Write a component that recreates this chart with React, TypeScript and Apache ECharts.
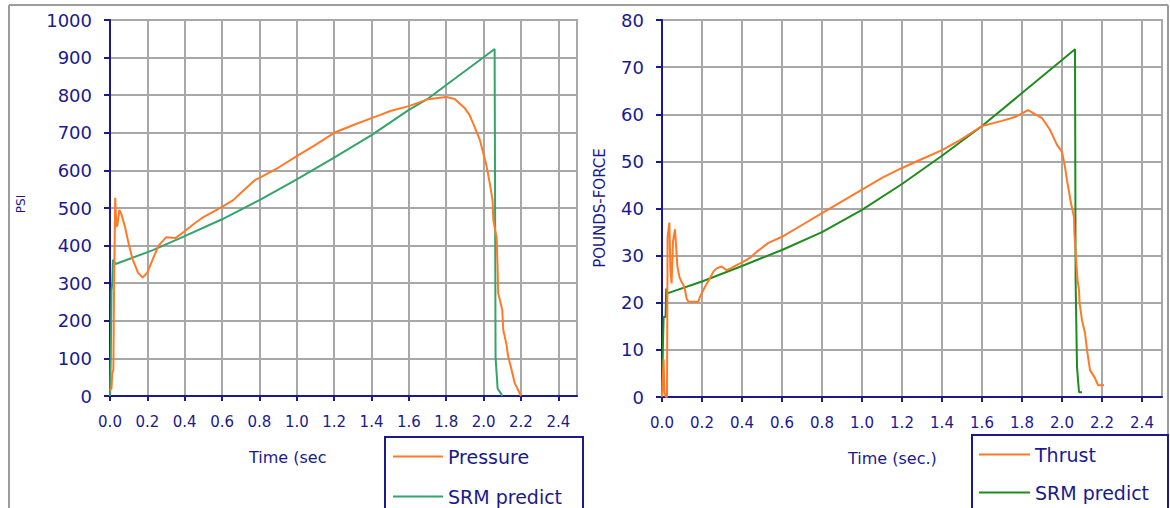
import React, { useEffect, useRef } from 'react';
import * as echarts from 'echarts';

// ---------- data ----------
const xTickValues = [0, 0.2, 0.4, 0.6, 0.8, 1.0, 1.2, 1.4, 1.6, 1.8, 2.0, 2.2, 2.4];

// Left chart: chamber pressure (PSI)
const pressureTime = [0, 0.008, 0.012, 0.018, 0.022, 0.028, 0.034, 0.04, 0.05, 0.06, 0.08, 0.10, 0.12, 0.15, 0.175, 0.20, 0.23, 0.26, 0.30, 0.35, 0.40, 0.45, 0.50, 0.60, 0.66, 0.70, 0.775, 0.80, 0.90, 1.00, 1.10, 1.20, 1.30, 1.40, 1.444, 1.50, 1.60, 1.70, 1.80, 1.845, 1.90, 1.925, 1.95, 1.98, 2.015, 2.035, 2.048, 2.052, 2.07, 2.072, 2.075, 2.078, 2.10, 2.105, 2.123, 2.13, 2.15, 2.166, 2.193, 2.20];
const pressureValue = [15, 20, 60, 70, 300, 527, 450, 455, 495, 485, 450, 405, 365, 328, 315, 328, 365, 400, 422, 420, 438, 458, 476, 503, 521, 540, 574, 580, 607, 638, 668, 700, 720, 739, 747, 758, 771, 789, 795, 790, 765, 747, 718, 681, 614, 560, 521, 468, 420, 388, 343, 274, 229, 176, 136, 109, 69, 35, 8, 0];

const srmLeftTime = [0, 0.004, 0.008, 0.012, 0.016, 0.03, 0.23, 0.40, 0.60, 0.80, 1.00, 1.20, 1.40, 1.60, 1.70, 1.80, 2.00, 2.059, 2.064, 2.075, 2.095, 2.10];
const srmLeftValue = [0, 95, 280, 300, 362, 351, 388, 425, 470, 521, 576, 634, 694, 761, 790, 827, 901, 923, 104, 20, 5, 0];

// Right chart: thrust (pounds-force)
const thrustTime = [0, 0.008, 0.012, 0.02, 0.025, 0.028, 0.037, 0.042, 0.048, 0.055, 0.065, 0.077, 0.087, 0.098, 0.107, 0.115, 0.123, 0.132, 0.182, 0.19, 0.215, 0.237, 0.257, 0.273, 0.298, 0.323, 0.348, 0.373, 0.398, 0.423, 0.448, 0.473, 0.507, 0.532, 0.60, 0.70, 0.80, 0.90, 1.00, 1.10, 1.20, 1.30, 1.40, 1.49, 1.60, 1.70, 1.765, 1.83, 1.90, 1.94, 1.975, 2.00, 2.015, 2.025, 2.045, 2.06, 2.062, 2.075, 2.078, 2.085, 2.088, 2.10, 2.115, 2.125, 2.14, 2.165, 2.18, 2.21];
const thrustValue = [0, 8, 1, 0, 0, 34, 37, 27, 24.1, 33, 35.6, 27.7, 25.5, 24.4, 23.8, 22.7, 20.9, 20.2, 20.2, 21.3, 23.4, 25.0, 26.6, 27.3, 27.7, 26.9, 27.4, 28.0, 28.5, 29.1, 29.8, 30.8, 31.9, 32.7, 34.0, 36.5, 39.0, 41.5, 44.0, 46.5, 48.6, 50.5, 52.4, 54.5, 57.5, 58.6, 59.4, 60.9, 59.2, 56.7, 53.5, 52.0, 48.8, 46.0, 41.1, 38.2, 34.8, 26.3, 24.8, 22.7, 19.9, 16.3, 13.6, 10.0, 5.7, 4.0, 2.5, 2.5];

const srmRightTime = [0, 0.002, 0.008, 0.018, 0.021, 0.026, 0.20, 0.40, 0.60, 0.80, 1.00, 1.20, 1.40, 1.60, 1.80, 2.00, 2.065, 2.068, 2.075, 2.085, 2.10];
const srmRightValue = [0, 5.7, 17, 17, 23, 22, 24.5, 27.8, 31.2, 35, 39.7, 45.2, 51.2, 57.5, 64.5, 71.5, 73.8, 24.8, 6.4, 1, 1];

// ---------- styles ----------
const NAVY = '#1a1a8e';
const GRID = '#a8a8a8';
const FRAME = '#9c9c9c';
const ORANGE = '#ff7a28';
const LGREEN = '#35a46a';
const RGREEN = '#1f8c1f';
const FONT = 'DejaVu Sans';

const zip = (t: number[], v: number[]) => t.map((x, i) => [x, v[i]]);

const makeX = (gridIndex: number) => ({
  type: 'value',
  gridIndex,
  min: 0,
  max: 2.5,
  interval: 0.2,
  axisLine: { show: true, onZero: false, lineStyle: { color: NAVY, width: 2 } },
  axisTick: { show: true, length: 5, lineStyle: { color: NAVY, width: 2 }, customValues: xTickValues },
  axisLabel: {
    color: NAVY,
    fontFamily: FONT,
    fontSize: 15,
    margin: 18,
    customValues: xTickValues,
    formatter: (v: number) => v.toFixed(1),
  },
  splitLine: { show: true, lineStyle: { color: GRID, width: 2 } },
});

const makeY = (gridIndex: number, max: number, interval: number) => ({
  type: 'value',
  gridIndex,
  min: 0,
  max,
  interval,
  axisLine: { show: true, onZero: false, lineStyle: { color: NAVY, width: 2 } },
  axisTick: { show: true, length: 6, lineStyle: { color: NAVY, width: 2 } },
  axisLabel: { color: NAVY, fontFamily: FONT, fontSize: 18, margin: 18, formatter: (v: number) => String(v) },
  splitLine: { show: true, lineStyle: { color: GRID, width: 2 } },
});

const lineSeries = (name: string, idx: number, data: number[][], color: string, z: number) => ({
  type: 'line',
  name,
  xAxisIndex: idx,
  yAxisIndex: idx,
  data,
  symbol: 'none',
  showSymbol: false,
  z,
  lineStyle: { color, width: 2 },
  itemStyle: { color },
});

const legendCommon = {
  orient: 'vertical',
  icon: 'rect',
  itemHeight: 2,
  selectedMode: false,
  borderWidth: 0,
  itemStyle: { borderWidth: 0 },
  textStyle: { color: NAVY, fontSize: 19, fontFamily: FONT },
};

const option = {
  animation: false,
  backgroundColor: '#ffffff',
  grid: [
    { left: 110, top: 20, width: 467, height: 376, show: true, borderColor: GRID, borderWidth: 2, backgroundColor: 'transparent' },
    { left: 662, top: 20, width: 500, height: 377, show: true, borderColor: GRID, borderWidth: 2, backgroundColor: 'transparent' },
  ],
  xAxis: [makeX(0), makeX(1)],
  yAxis: [makeY(0, 1000, 100), makeY(1, 80, 10)],
  legend: [
    {
      ...legendCommon,
      data: ['Pressure', 'SRM predict'],
      left: 385,
      top: 437,
      itemWidth: 50,
      itemGap: 21,
      padding: [10, 0, 0, 8],
    },
    {
      ...legendCommon,
      data: ['Thrust', { name: 'SRM predict', itemStyle: { color: RGREEN, borderWidth: 0 } }],
      left: 972,
      top: 435,
      itemWidth: 51,
      itemGap: 19,
      padding: [10, 0, 0, 7],
    },
  ],
  series: [
    lineSeries('Pressure', 0, zip(pressureTime, pressureValue), ORANGE, 3),
    lineSeries('SRM predict', 0, zip(srmLeftTime, srmLeftValue), LGREEN, 2),
    lineSeries('Thrust', 1, zip(thrustTime, thrustValue), ORANGE, 3),
    lineSeries('SRM predict', 1, zip(srmRightTime, srmRightValue), RGREEN, 2),
  ],
  graphic: [
    // outer frame
    { type: 'line', shape: { x1: 9, y1: 5, x2: 1168, y2: 5 }, style: { stroke: FRAME, lineWidth: 2 } },
    { type: 'line', shape: { x1: 9, y1: 5, x2: 9, y2: 508 }, style: { stroke: FRAME, lineWidth: 2 } },
    { type: 'line', shape: { x1: 1168, y1: 5, x2: 1168, y2: 508 }, style: { stroke: FRAME, lineWidth: 2 } },
    // legend boxes
    { type: 'rect', shape: { x: 385, y: 437, width: 198, height: 100 }, style: { fill: 'none', stroke: NAVY, lineWidth: 2 } },
    { type: 'rect', shape: { x: 972, y: 435, width: 196, height: 100 }, style: { fill: 'none', stroke: NAVY, lineWidth: 2 } },
    // axis titles
    { type: 'text', x: 249, y: 457, style: { text: 'Time (sec', fill: NAVY, fontSize: 16, fontFamily: FONT, align: 'left', verticalAlign: 'middle' } },
    { type: 'text', x: 848, y: 458, style: { text: 'Time (sec.)', fill: NAVY, fontSize: 16, fontFamily: FONT, align: 'left', verticalAlign: 'middle' } },
    { type: 'text', x: 21, y: 204, rotation: Math.PI / 2, style: { text: 'PSI', fill: NAVY, fontSize: 12, fontFamily: FONT, align: 'center', verticalAlign: 'middle' } },
    { type: 'text', x: 600, y: 208, rotation: Math.PI / 2, style: { text: 'POUNDS-FORCE', fill: NAVY, fontSize: 15, fontFamily: FONT, align: 'center', verticalAlign: 'middle' } },
  ],
};

export default function App() {
  const ref = useRef<HTMLDivElement>(null);
  useEffect(() => {
    const chart = echarts.init(ref.current as HTMLDivElement, null, { renderer: 'svg' });
    chart.setOption(option as any);
    return () => chart.dispose();
  }, []);
  return (
    <div
      ref={ref}
      style={{ position: 'absolute', left: 0, top: 0, width: 1170, height: 508, background: '#ffffff' }}
    />
  );
}
